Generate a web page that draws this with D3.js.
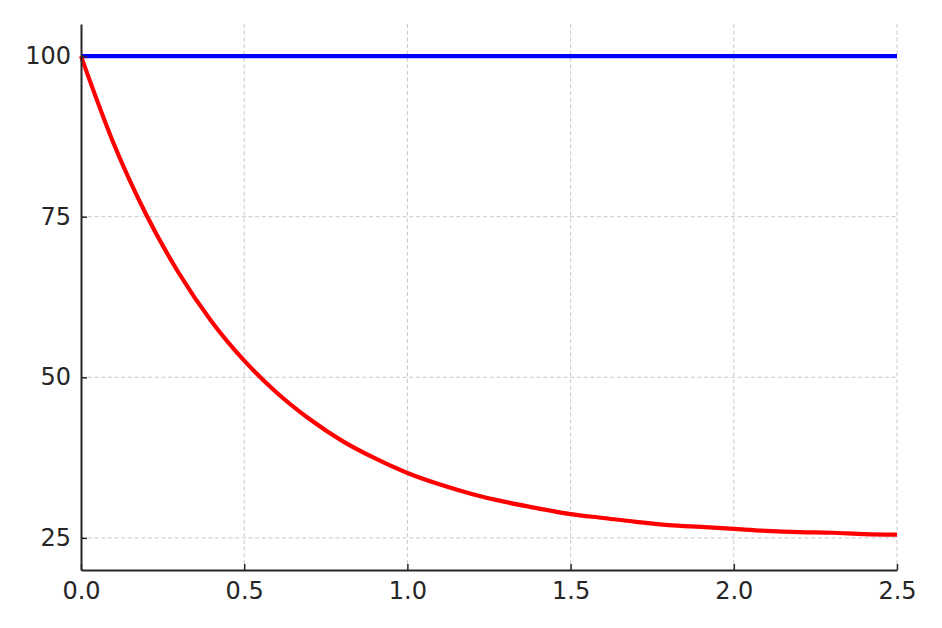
<!DOCTYPE html>
<html>
<head>
<meta charset="utf-8">
<script src="https://cdn.jsdelivr.net/npm/d3@7"></script>
<style>
  html, body { margin: 0; padding: 0; background: #fff; }
  svg { display: block; }
  text { font-family: "DejaVu Sans", sans-serif; }
</style>
</head>
<body>
<svg id="chart" width="942" height="628"></svg>
<script>
// Data
const xValues   = [0.0, 0.1, 0.2, 0.3, 0.4, 0.5, 0.6, 0.7, 0.8, 0.9, 1.0, 1.1, 1.2, 1.3, 1.4, 1.5, 1.6, 1.7, 1.8, 1.9, 2.0, 2.1, 2.2, 2.3, 2.4, 2.5];
const redValues = [100, 86.4, 75.3, 66.2, 58.7, 52.6, 47.6, 43.5, 40.1, 37.4, 35.1, 33.3, 31.8, 30.6, 29.6, 28.7, 28.1, 27.5, 27.0, 26.7, 26.4, 26.1, 25.9, 25.8, 25.6, 25.5];
const blueX      = [0.0, 2.5];
const blueValues = [100, 100];
const xTicks = [0.0, 0.5, 1.0, 1.5, 2.0, 2.5];
const yTicks = [25, 50, 75, 100];

const svg = d3.select("#chart");
const mLeft = 81, mRight = 897, mTop = 24, mBottom = 570;

const x = d3.scaleLinear().domain([0, 2.5]).range([mLeft, mRight]);
const y = d3.scaleLinear().domain([20, 105]).range([mBottom, mTop]);

// grid
const grid = svg.append("g");
grid.selectAll(".vg").data(xTicks.filter(d => d > 0)).enter().append("line")
  .attr("x1", d => x(d)).attr("x2", d => x(d))
  .attr("y1", mTop).attr("y2", mBottom)
  .attr("stroke", "#c8c8c8").attr("stroke-width", 1).attr("stroke-dasharray", "4,2.7");
grid.selectAll(".hg").data(yTicks).enter().append("line")
  .attr("x1", mLeft).attr("x2", mRight)
  .attr("y1", d => y(d)).attr("y2", d => y(d))
  .attr("stroke", "#c8c8c8").attr("stroke-width", 1).attr("stroke-dasharray", "4,2.7");

// lines
const line = d3.line().x(d => x(d[0])).y(d => y(d[1])).curve(d3.curveMonotoneX);
svg.append("path")
  .datum(blueX.map((v, i) => [v, blueValues[i]]))
  .attr("d", line).attr("fill", "none").attr("stroke", "#0000ff").attr("stroke-width", 4.2);
svg.append("path")
  .datum(xValues.map((v, i) => [v, redValues[i]]))
  .attr("d", line).attr("fill", "none").attr("stroke", "#ff0000").attr("stroke-width", 4.2)
  .attr("stroke-linejoin", "round");

// axes (ticks inward)
const xAxis = d3.axisBottom(x).tickValues(xTicks).tickFormat(d3.format(".1f"))
  .tickSizeInner(-6).tickSizeOuter(0).tickPadding(12);
const gx = svg.append("g").attr("transform", `translate(0,${mBottom})`).call(xAxis);
gx.select(".domain").attr("stroke", "#262626").attr("stroke-width", 2);
gx.selectAll(".tick line").attr("stroke", "#262626").attr("stroke-width", 1.5);
gx.selectAll("text").attr("font-size", 24).attr("fill", "#262626")
  .attr("font-family", "DejaVu Sans, sans-serif");

const yAxis = d3.axisLeft(y).tickValues(yTicks).tickFormat(d3.format("d"))
  .tickSizeInner(-6).tickSizeOuter(0).tickPadding(10);
const gy = svg.append("g").attr("transform", `translate(${mLeft},0)`).call(yAxis);
gy.select(".domain").attr("stroke", "#262626").attr("stroke-width", 2);
gy.selectAll(".tick line").attr("stroke", "#262626").attr("stroke-width", 1.5);
gy.selectAll("text").attr("font-size", 24).attr("fill", "#262626")
  .attr("font-family", "DejaVu Sans, sans-serif");
</script>
</body>
</html>
